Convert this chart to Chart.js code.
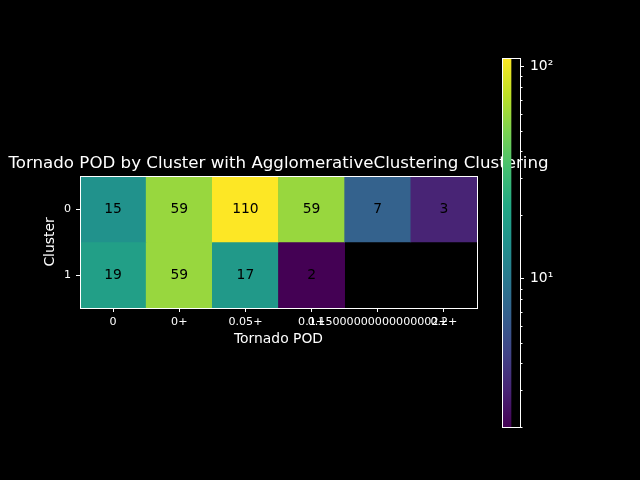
<!DOCTYPE html>
<html>
<head>
<meta charset="utf-8">
<script src="https://cdn.jsdelivr.net/npm/chart.js@4"></script>
<style>
html,body{margin:0;padding:0;background:#000;}
#wrap{position:relative;width:640px;height:480px;}
canvas{position:absolute;left:0;top:0;}
</style>
</head>
<body>
<div id="wrap">
<canvas id="main" width="640" height="480"></canvas>
<canvas id="cbar" width="640" height="480"></canvas>
</div>
<script>
// ---- data ----
const xLabels = ['0', '0+', '0.05+', '0.1+', '0.15000000000000002+', '0.2+'];
const clusters = [0, 1];
const row0 = [15, 59, 110, 59, 7, 3];
const row1 = [19, 59, 17, 2, null, null];
const vmin = 2;
const vmax = 110;
const cbTicks = [2,3,4,5,6,7,8,9,10,20,30,40,50,60,70,80,90,100];
const cbMajor = [10, 100];
const titleText = 'Tornado POD by Cluster with AgglomerativeClustering Clustering';

// ---- viridis colormap ----
const viridis = ['#440154','#482475','#414487','#355f8d','#2a788e','#21918c','#22a884','#44bf70','#7ad151','#bddf26','#fde725'];
function hex2rgb(h){return [parseInt(h.slice(1,3),16),parseInt(h.slice(3,5),16),parseInt(h.slice(5,7),16)];}
function cmap(t){
  t = Math.max(0, Math.min(1, t));
  const p = t * (viridis.length - 1);
  const i = Math.min(Math.floor(p), viridis.length - 2);
  const f = p - i;
  const a = hex2rgb(viridis[i]), b = hex2rgb(viridis[i+1]);
  const c = a.map((v,k)=>Math.round(v + (b[k]-v)*f));
  return 'rgb(' + c.join(',') + ')';
}
function norm(v){ return Math.log(v/vmin) / Math.log(vmax/vmin); }

const FONT = "'DejaVu Sans', sans-serif";
const rows = [row0, row1];

const datasets = rows.map((vals, r) => ({
  label: 'Cluster ' + clusters[r],
  data: vals.map(v => v == null ? null : [clusters[r] - 0.5, clusters[r] + 0.5]),
  values: vals,
  backgroundColor: vals.map(v => v == null ? 'rgba(0,0,0,0)' : cmap(norm(v))),
  borderWidth: 0,
  barPercentage: 1,
  categoryPercentage: 1,
  grouped: false
}));

const annotate = {
  id: 'annotate',
  afterDatasetsDraw(chart) {
    const ctx = chart.ctx;
    ctx.save();
    ctx.font = '13.89px ' + FONT;
    ctx.fillStyle = '#000';
    ctx.textAlign = 'center';
    ctx.textBaseline = 'middle';
    chart.data.datasets.forEach((ds, di) => {
      const meta = chart.getDatasetMeta(di);
      meta.data.forEach((el, i) => {
        const v = ds.values[i];
        if (v == null) return;
        ctx.fillText(String(v), el.x, (el.y + el.base) / 2 + 0.5);
      });
    });
    const a = chart.chartArea;
    // frame
    ctx.strokeStyle = '#fff';
    ctx.lineWidth = 1;
    ctx.strokeRect(Math.round(a.left) + 0.5, Math.round(a.top) + 0.5, Math.round(a.right - a.left), Math.round(a.bottom - a.top));
    // title, centred over the axes
    ctx.font = '16.67px ' + FONT;
    ctx.fillStyle = '#fff';
    ctx.textBaseline = 'alphabetic';
    ctx.fillText(titleText, (a.left + a.right) / 2, a.top - 8);
    ctx.restore();
  }
};

new Chart(document.getElementById('main'), {
  type: 'bar',
  data: { labels: xLabels, datasets },
  options: {
    responsive: false,
    devicePixelRatio: 1,
    animation: false,
    events: [],
    layout: { padding: { left: 38, right: 163, top: 176, bottom: 128 } },
    plugins: {
      legend: { display: false },
      tooltip: { enabled: false },
      title: { display: false }
    },
    scales: {
      x: {
        type: 'category',
        offset: true,
        afterFit(s) { s.height = 44; },
        grid: { display: true, offset: false, drawOnChartArea: false, tickLength: 4, tickColor: '#fff' },
        border: { display: true, color: '#fff' },
        ticks: { color: '#fff', autoSkip: false, maxRotation: 0, minRotation: 0, padding: 3, font: { family: FONT, size: 11.11 } },
        title: { display: true, text: 'Tornado POD', color: '#fff', font: { family: FONT, size: 13.89 }, padding: { top: 4, bottom: 4 } }
      },
      y: {
        type: 'linear',
        min: clusters[0] - 0.5,
        max: clusters[clusters.length - 1] + 0.5,
        reverse: true,
        afterFit(s) { s.width = 42; },
        afterBuildTicks(s) { s.ticks = clusters.map(v => ({ value: v })); },
        grid: { display: true, drawOnChartArea: false, tickLength: 4, tickColor: '#fff' },
        border: { display: true, color: '#fff' },
        ticks: { color: '#fff', padding: 5, font: { family: FONT, size: 11.11 }, callback: v => String(v) },
        title: { display: true, text: 'Cluster', color: '#fff', font: { family: FONT, size: 13.89 }, padding: { top: 4, bottom: 4 } }
      }
    }
  },
  plugins: [annotate]
});

// ---- colorbar ----
const cbFrame = {
  id: 'cbFrame',
  afterDatasetsDraw(chart) {
    const a = chart.chartArea, ctx = chart.ctx;
    const s = chart.scales.y;
    ctx.save();
    ctx.strokeStyle = '#fff';
    ctx.lineWidth = 1;
    ctx.strokeRect(Math.round(a.left) + 0.5, Math.round(a.top) + 0.5, Math.round(a.right - a.left), Math.round(a.bottom - a.top));
    // minor ticks (shorter)
    cbTicks.filter(v => cbMajor.indexOf(v) < 0).forEach(v => {
      const y = Math.round(s.getPixelForValue(v)) + 0.5;
      ctx.beginPath();
      ctx.moveTo(Math.round(a.right) + 0.5, y);
      ctx.lineTo(Math.round(a.right) + 2.5, y);
      ctx.stroke();
    });
    ctx.restore();
  }
};

new Chart(document.getElementById('cbar'), {
  type: 'bar',
  data: {
    labels: ['cb'],
    datasets: [{
      data: [[vmin, vmax]],
      backgroundColor(c) {
        const a = c.chart.chartArea;
        if (!a) return '#000';
        const g = c.chart.ctx.createLinearGradient(0, a.bottom, 0, a.top);
        viridis.forEach((col, i) => g.addColorStop(i / (viridis.length - 1), col));
        return g;
      },
      borderWidth: 0,
      barPercentage: 1,
      categoryPercentage: 1
    }]
  },
  options: {
    responsive: false,
    devicePixelRatio: 1,
    animation: false,
    events: [],
    layout: { padding: { left: 502, right: 80, top: 58, bottom: 53 } },
    plugins: { legend: { display: false }, tooltip: { enabled: false }, title: { display: false } },
    scales: {
      x: { display: false, offset: false },
      y: {
        type: 'logarithmic',
        position: 'right',
        min: vmin,
        max: vmax,
        afterFit(s) { s.width = 40; },
        afterBuildTicks(s) { s.ticks = cbTicks.map(v => ({ value: v })); },
        grid: {
          display: true, drawOnChartArea: false, tickLength: 4,
          tickColor: c => (c.tick && cbMajor.indexOf(c.tick.value) >= 0) ? '#fff' : 'rgba(0,0,0,0)'
        },
        border: { display: false },
        ticks: {
          color: '#fff', padding: 6, autoSkip: false,
          font: { family: FONT, size: 13.89 },
          callback: v => v === 10 ? '10\u00b9' : (v === 100 ? '10\u00b2' : '')
        }
      }
    }
  },
  plugins: [cbFrame]
});
</script>
</body>
</html>
